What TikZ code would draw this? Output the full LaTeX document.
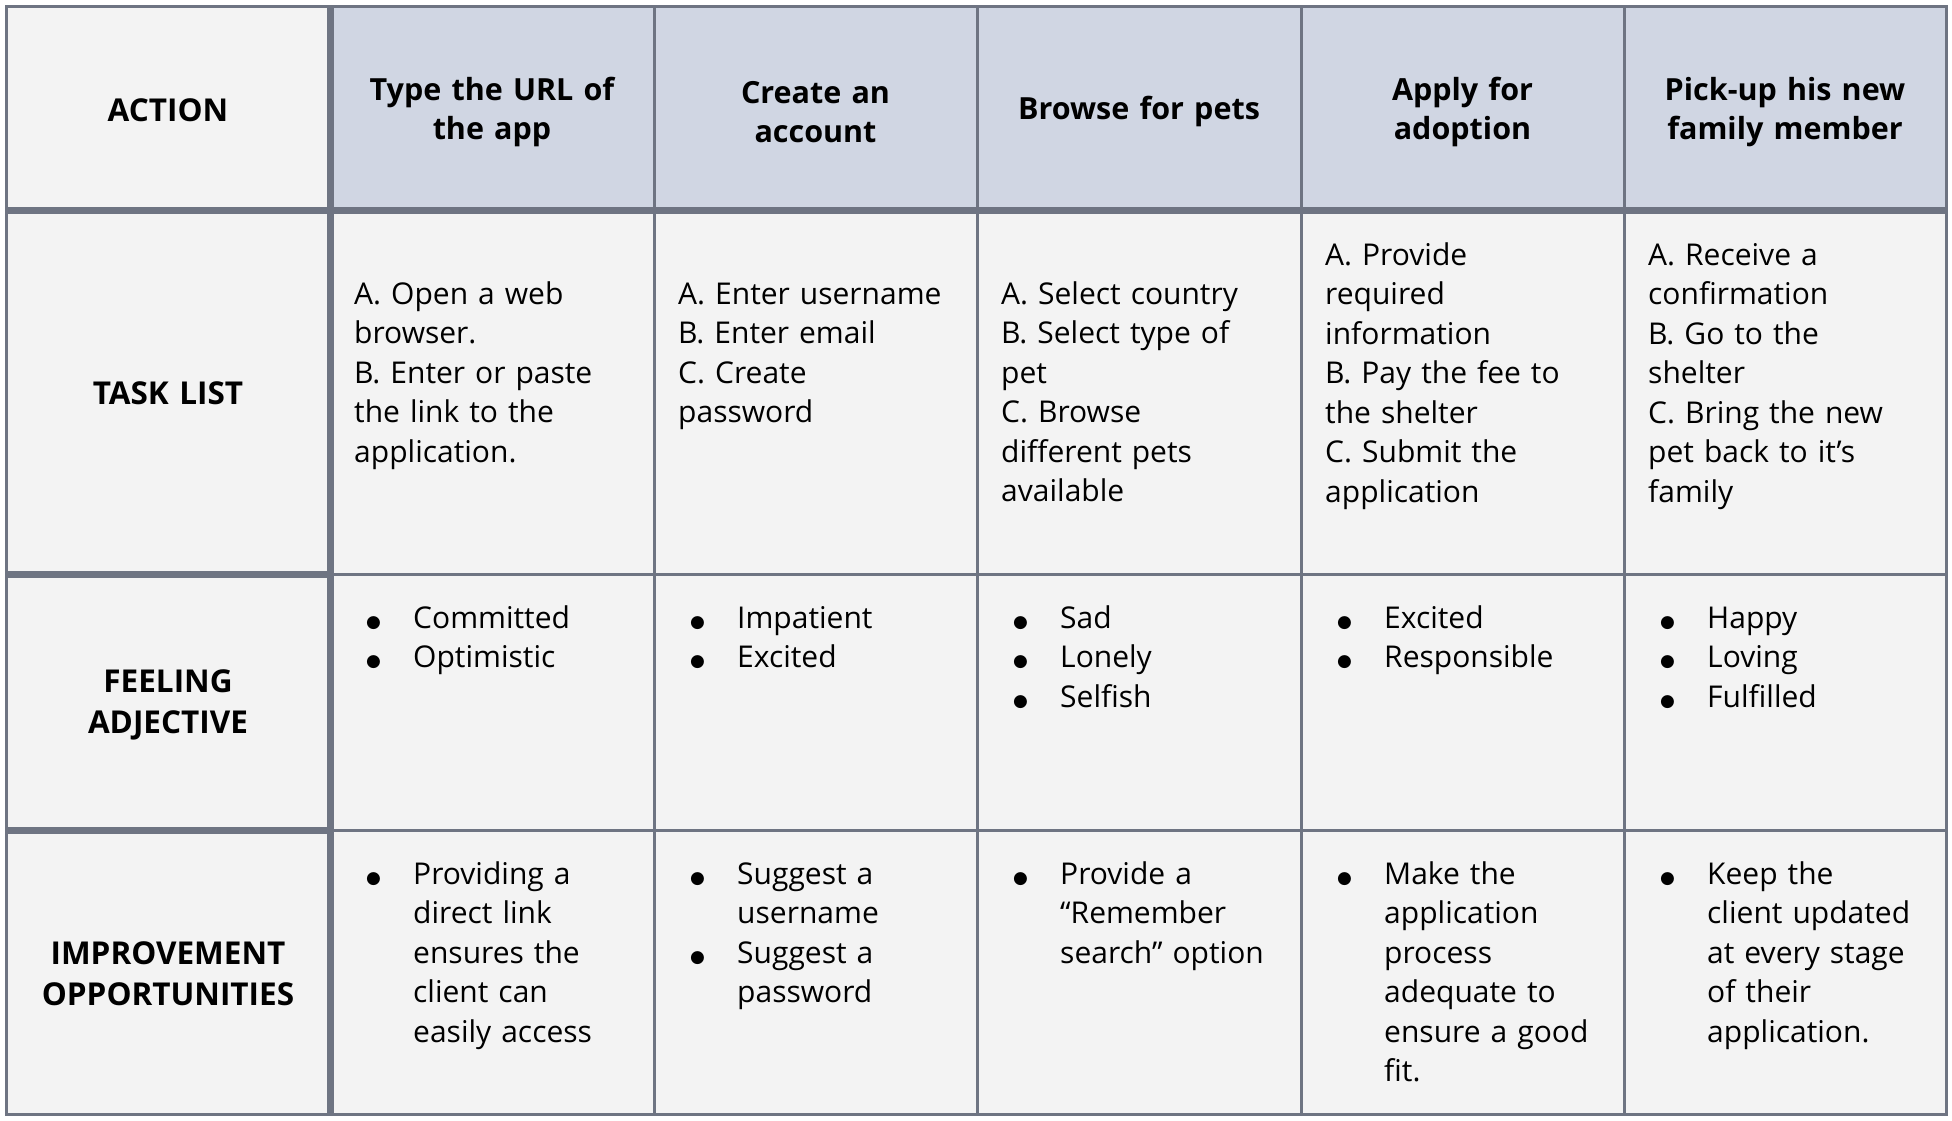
\documentclass[tikz,border=0pt]{standalone}
\usepackage{fontspec}
\setmainfont{Open Sans}
\newfontfamily\symfont{DejaVu Sans}
\usetikzlibrary{positioning}

\definecolor{headfill}{HTML}{D0D6E3}
\definecolor{cellfill}{HTML}{F3F3F3}
\definecolor{gridline}{HTML}{6E7482}

\newcommand{\bulletglyph}{\raisebox{1pt}{\symfont\fontsize{17}{17}\selectfont ●}}
\newcommand{\bitem}{\leavevmode\llap{\makebox[47pt][l]{\bulletglyph}}}

\tikzset{
	rowlabel/.style={font=\bfseries\fontsize{31.5}{41}\selectfont, align=center, text width=320pt, inner sep=0pt},
	headlabel/.style={font=\bfseries\fontsize{30.5}{38.6}\selectfont, align=center, text width=320pt, inner sep=0pt},
	celltext/.style={font=\fontsize{30}{39.5}\selectfont, align=left, text width=400pt, anchor=base west, inner sep=0pt},
	thinrule/.style={gridline, line width=3pt},
	thickrule/.style={gridline, line width=7pt}
}

\begin{document}
\begin{tikzpicture}[x=1pt,y=-1pt]
	\useasboundingbox (0,0) rectangle (1952,1120);
	\fill[white] (0,0) rectangle (1952,1120);

	% cells
	\fill[cellfill] (6,6) rectangle (1946,1114);
	\fill[headfill] (330,6) rectangle (1946,210);

	% grid
	\foreach \x in {654,977,1301,1624}
		\draw[thinrule] (\x,6) -- (\x,1114);
	\foreach \y in {574,830}
		\draw[thinrule] (330,\y) -- (1946,\y);
	\draw[thinrule] (6,6) rectangle (1946,1114);
	\draw[thickrule] (330,6) -- (330,1114);
	\draw[thickrule] (6,210) -- (1946,210);
	\foreach \y in {574,830}
		\draw[thickrule] (6,\y) -- (330,\y);

	% row labels
	\node[rowlabel] (lblAction) at (168,110) {ACTION};
	\node[rowlabel] (lblTask) at (168,393) {TASK LIST};
	\node[rowlabel] (lblFeel) at (168,705) {FEELING\\ADJECTIVE};
	\node[rowlabel] (lblImprove) at (168,974) {IMPROVEMENT\\OPPORTUNITIES};

	% header
	\node[headlabel] (hdUrl) at (492,112) {Type the URL of\\the app};
	\node[headlabel] (hdAccount) at (815.5,112) {Create an\\account};
	\node[headlabel] (hdBrowse) at (1139,111) {Browse for pets};
	\node[headlabel] (hdApply) at (1462.5,112) {Apply for\\adoption};
	\node[headlabel] (hdPickup) at (1785,112) {Pick-up his new\\family member};

	% task list
	\node[celltext] (taskUrl) at (354,304) {A. Open a web\\browser.\\B. Enter or paste\\the link to the\\application.};
	\node[celltext] (taskAccount) at (678,304) {A. Enter username\\B. Enter email\\C. Create\\password};
	\node[celltext] (taskBrowse) at (1001,304) {A. Select country\\B. Select type of\\pet\\C. Browse\\different pets\\available};
	\node[celltext] (taskApply) at (1325,265) {A. Provide\\required\\information\\B. Pay the fee to\\the shelter\\C. Submit the\\application};
	\node[celltext] (taskPickup) at (1648,265) {A. Receive a\\confirmation\\B. Go to the\\shelter\\C. Bring the new\\pet back to it’s\\family};

	% feelings
	\node[celltext] (feelUrl) at (413,628) {\bitem Committed\\\bitem Optimistic};
	\node[celltext] (feelAccount) at (737,628) {\bitem Impatient\\\bitem Excited};
	\node[celltext] (feelBrowse) at (1060,628) {\bitem Sad\\\bitem Lonely\\\bitem Selfish};
	\node[celltext] (feelApply) at (1384,628) {\bitem Excited\\\bitem Responsible};
	\node[celltext] (feelPickup) at (1707,628) {\bitem Happy\\\bitem Loving\\\bitem Fulfilled};

	% improvements
	\node[celltext] (impUrl) at (413,884) {\bitem Providing a\\direct link\\ensures the\\client can\\easily access};
	\node[celltext] (impAccount) at (737,884) {\bitem Suggest a\\username\\\bitem Suggest a\\password};
	\node[celltext] (impBrowse) at (1060,884) {\bitem Provide a\\“Remember\\search” option};
	\node[celltext] (impApply) at (1384,884) {\bitem Make the\\application\\process\\adequate to\\ensure a good\\fit.};
	\node[celltext] (impPickup) at (1707,884) {\bitem Keep the\\client updated\\at every stage\\of their\\application.};
\end{tikzpicture}
\end{document}
